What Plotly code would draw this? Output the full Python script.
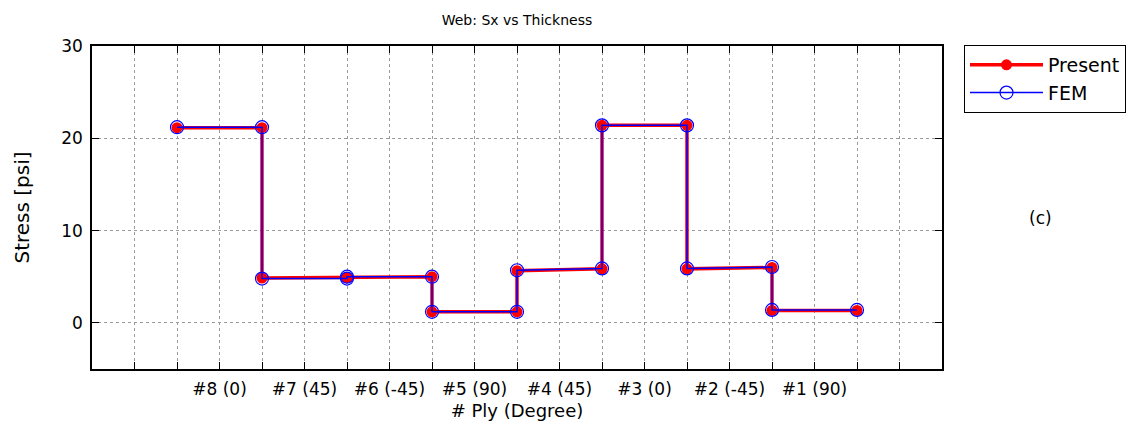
import plotly.graph_objects as go

# Ply interfaces (position through the web) and stress at each interface
x_present = [1, 2, 2, 3, 3, 4, 4, 5, 5, 6, 6, 7, 7, 8, 8, 9]
sx_present = [21.15, 21.15, 4.85, 4.9, 4.9, 5.0, 1.2, 1.2, 5.65, 5.85, 21.4, 21.4, 5.85, 6.0, 1.35, 1.35]

x_fem = [1, 2, 2, 3, 3, 4, 4, 5, 5, 6, 6, 7, 7, 8, 8, 9]
sx_fem = [21.2, 21.2, 4.8, 4.8, 5.0, 5.0, 1.2, 1.2, 5.7, 5.9, 21.4, 21.4, 5.9, 6.05, 1.4, 1.4]

# Axis ticks: every half ply, ply names centred in each ply
x_ticks = [i * 0.5 for i in range(21)]
ply_positions = [1.5, 2.5, 3.5, 4.5, 5.5, 6.5, 7.5, 8.5]
ply_labels = ["#8 (0)", "#7 (45)", "#6 (-45)", "#5 (90)",
              "#4 (45)", "#3 (0)", "#2 (-45)", "#1 (90)"]
y_ticks = [0, 10, 20, 30]

tick_text = []
for v in x_ticks:
    tick_text.append(ply_labels[ply_positions.index(v)] if v in ply_positions else "")

FONT = "DejaVu Sans"

fig = go.Figure()
fig.add_trace(go.Scatter(
    x=x_present, y=sx_present, name="Present", mode="lines+markers",
    legendgroup="a",
    line=dict(color="#FF0000", width=3.5),
    marker=dict(symbol="circle", size=11, color="#FF0000"),
))
fig.add_trace(go.Scatter(
    x=x_fem, y=sx_fem, name="FEM", mode="lines+markers",
    legendgroup="b",
    line=dict(color="#0000FF", width=1.5),
    marker=dict(symbol="circle-open", size=13, color="#0000FF",
                line=dict(width=1.2, color="#0000FF")),
))

axis_common = dict(
    showline=True, linecolor="black", linewidth=1.5, mirror="ticks",
    ticks="inside", ticklen=7, tickcolor="black", tickwidth=1,
    showgrid=True, gridcolor="#9a9a9a", griddash="dot", gridwidth=1,
    zeroline=False,
    tickfont=dict(family=FONT, size=17, color="black"),
)

fig.update_xaxes(
    range=[0, 10], tickmode="array", tickvals=x_ticks, ticktext=tick_text,
    ticklabelstandoff=4,
    title=dict(text="# Ply (Degree)", font=dict(family=FONT, size=18, color="black"),
               standoff=6),
    **axis_common,
)
fig.update_yaxes(
    range=[-5, 30], tickmode="array", tickvals=y_ticks,
    ticklabelstandoff=4,
    title=dict(text="Stress [psi]", font=dict(family=FONT, size=20, color="black"),
               standoff=26),
    **axis_common,
)

fig.update_layout(
    width=1131, height=430,
    margin=dict(l=92, r=189, t=46, b=56),
    paper_bgcolor="white", plot_bgcolor="white",
    font=dict(family=FONT, color="black"),
    title=dict(text="Web: Sx vs Thickness", x=0.5, xref="paper",
               y=1 - 20 / 430, yref="container", yanchor="middle",
               font=dict(family=FONT, size=14, color="black")),
    legend=dict(
        xref="container", yref="container",
        x=964 / 1131, y=1 - 45 / 430, xanchor="left", yanchor="top",
        bordercolor="black", borderwidth=1, bgcolor="white",
        font=dict(family=FONT, size=19, color="black"),
        itemwidth=73, tracegroupgap=0, traceorder="grouped",
    ),
)

fig.update_layout(annotations=[dict(
    text="(c)", xref="paper", yref="paper",
    x=(1040 - 92) / (1131 - 92 - 189), y=(430 - 56 - 221) / (430 - 46 - 56),
    xanchor="center", yanchor="middle",
    showarrow=False, font=dict(family=FONT, size=17, color="black"),
)])

fig.write_html("out.html")
